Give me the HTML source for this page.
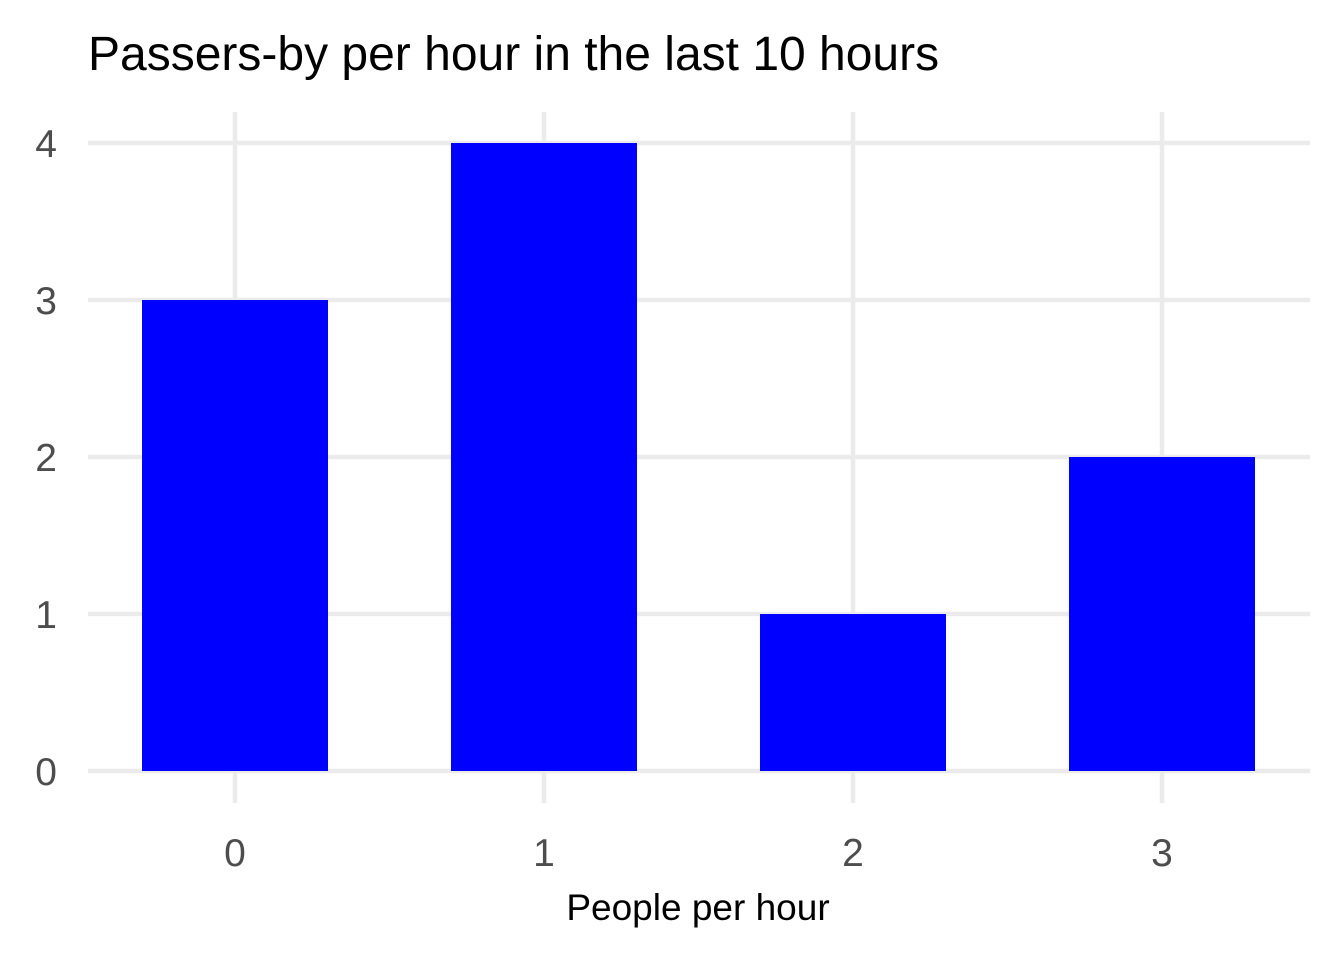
<!DOCTYPE html>
<html><head><meta charset="utf-8"><style>
html,body{margin:0;padding:0;background:#fff;}
svg{display:block;font-family:"Liberation Sans",Arial,sans-serif;}
</style></head><body>
<svg id="chart" width="1344" height="960">
<text x="88" y="70" font-size="48" fill="#000">Passers-by per hour in the last 10 hours</text>
<g id="grid"></g><g id="bars"></g><g id="ticks"></g>
<text x="698" y="920" font-size="37" fill="#000" text-anchor="middle">People per hour</text>
</svg>
<script>
const categories = ["0","1","2","3"];
const counts = [3,4,1,2];
const yTicks = [0,1,2,3,4];
const ns="http://www.w3.org/2000/svg";
const x0=235, xStep=309, y0=771, yUnit=157, barW=186;
const xScale=i=>x0+i*xStep;
const yScale=v=>y0-v*yUnit;
function mk(tag,attrs,parent){const e=document.createElementNS(ns,tag);for(const k in attrs)e.setAttribute(k,attrs[k]);parent.appendChild(e);return e;}
const grid=document.getElementById('grid'),bars=document.getElementById('bars'),ticks=document.getElementById('ticks');
yTicks.forEach(v=>{
  const l=mk('line',{x1:88,x2:1310,y1:yScale(v),y2:yScale(v),stroke:'#ebebeb','stroke-width':4.5},grid);
  
  
  const t=mk('text',{x:57,y:yScale(v)+14,'font-size':39,fill:'#4d4d4d','text-anchor':'end'},ticks);
  t.textContent=v;
  
  
});
categories.forEach((c,i)=>{
  const l=mk('line',{x1:xScale(i),x2:xScale(i),y1:112,y2:803,stroke:'#ebebeb','stroke-width':4.5},grid);
  
  
  const r=mk('rect',{x:xScale(i)-barW/2,y:yScale(counts[i]),width:barW,height:counts[i]*yUnit,fill:'#0000ff'},bars);
  
  
  const t=mk('text',{x:xScale(i),y:866,'font-size':39,fill:'#4d4d4d','text-anchor':'middle'},ticks);
  t.textContent=c;
  
  
});
</script>
</body></html>
